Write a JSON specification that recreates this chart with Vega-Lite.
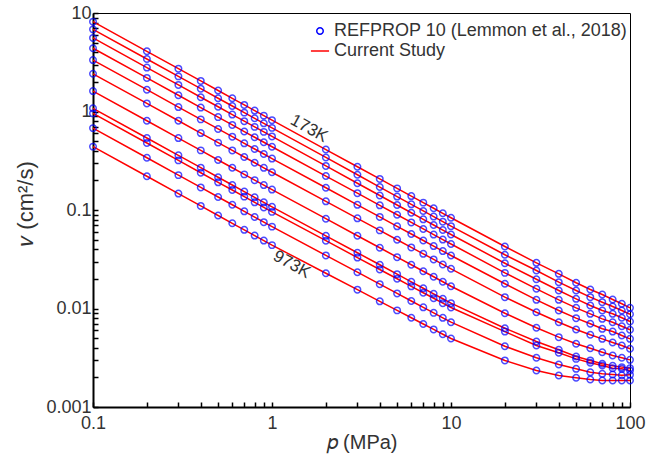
{
"$schema": "https://vega.github.io/schema/vega-lite/v6.json",
"width": 537, "height": 394,
"autosize": {"type": "none"},
"padding": {"left": 93, "top": 13, "right": 27, "bottom": 53},
"background": "white",
"config": {"view": {"stroke": "black", "strokeWidth": 1}, "font": "Liberation Sans"},
"datasets": {
"nu": [
{"T":173,"p":0.1,"v":8.17},{"T":173,"p":0.2,"v":4.085},{"T":173,"p":0.3,"v":2.723},{"T":173,"p":0.4,"v":2.043},{"T":173,"p":0.5,"v":1.634},{"T":173,"p":0.6,"v":1.362},{"T":173,"p":0.7,"v":1.167},{"T":173,"p":0.8,"v":1.021},{"T":173,"p":0.9,"v":0.908},{"T":173,"p":1,"v":0.817},{"T":173,"p":2,"v":0.411},{"T":173,"p":3,"v":0.275},{"T":173,"p":4,"v":0.2068},{"T":173,"p":5,"v":0.1658},{"T":173,"p":6,"v":0.1384},{"T":173,"p":7,"v":0.1188},{"T":173,"p":8,"v":0.1041},{"T":173,"p":9,"v":0.0926},{"T":173,"p":10,"v":0.0834},{"T":173,"p":20,"v":0.0426},{"T":173,"p":30,"v":0.0291},{"T":173,"p":40,"v":0.0225},{"T":173,"p":50,"v":0.01824},{"T":173,"p":60,"v":0.0156},{"T":173,"p":70,"v":0.01387},{"T":173,"p":80,"v":0.01233},{"T":173,"p":90,"v":0.01117},{"T":173,"p":100,"v":0.01016},
{"T":253,"p":0.1,"v":6.82},{"T":253,"p":0.2,"v":3.41},{"T":253,"p":0.3,"v":2.273},{"T":253,"p":0.4,"v":1.705},{"T":253,"p":0.5,"v":1.364},{"T":253,"p":0.6,"v":1.137},{"T":253,"p":0.7,"v":0.974},{"T":253,"p":0.8,"v":0.853},{"T":253,"p":0.9,"v":0.758},{"T":253,"p":1,"v":0.682},{"T":253,"p":2,"v":0.3415},{"T":253,"p":3,"v":0.2278},{"T":253,"p":4,"v":0.171},{"T":253,"p":5,"v":0.1368},{"T":253,"p":6,"v":0.1141},{"T":253,"p":7,"v":0.0978},{"T":253,"p":8,"v":0.0857},{"T":253,"p":9,"v":0.0761},{"T":253,"p":10,"v":0.0685},{"T":253,"p":20,"v":0.0351},{"T":253,"p":30,"v":0.0243},{"T":253,"p":40,"v":0.0185},{"T":253,"p":50,"v":0.01524},{"T":253,"p":60,"v":0.01303},{"T":253,"p":70,"v":0.01159},{"T":253,"p":80,"v":0.01047},{"T":253,"p":90,"v":0.00955},{"T":253,"p":100,"v":0.00875},
{"T":333,"p":0.1,"v":5.585},{"T":333,"p":0.2,"v":2.793},{"T":333,"p":0.3,"v":1.862},{"T":333,"p":0.4,"v":1.396},{"T":333,"p":0.5,"v":1.117},{"T":333,"p":0.6,"v":0.931},{"T":333,"p":0.7,"v":0.798},{"T":333,"p":0.8,"v":0.698},{"T":333,"p":0.9,"v":0.621},{"T":333,"p":1,"v":0.5585},{"T":333,"p":2,"v":0.2801},{"T":333,"p":3,"v":0.187},{"T":333,"p":4,"v":0.1404},{"T":333,"p":5,"v":0.1124},{"T":333,"p":6,"v":0.0938},{"T":333,"p":7,"v":0.0804},{"T":333,"p":8,"v":0.0704},{"T":333,"p":9,"v":0.0626},{"T":333,"p":10,"v":0.0564},{"T":333,"p":20,"v":0.0288},{"T":333,"p":30,"v":0.0198},{"T":333,"p":40,"v":0.01524},{"T":333,"p":50,"v":0.01253},{"T":333,"p":60,"v":0.01072},{"T":333,"p":70,"v":0.00955},{"T":333,"p":80,"v":0.00883},{"T":333,"p":90,"v":0.00805},{"T":333,"p":100,"v":0.00738},
{"T":413,"p":0.1,"v":4.385},{"T":413,"p":0.2,"v":2.193},{"T":413,"p":0.3,"v":1.462},{"T":413,"p":0.4,"v":1.096},{"T":413,"p":0.5,"v":0.877},{"T":413,"p":0.6,"v":0.731},{"T":413,"p":0.7,"v":0.626},{"T":413,"p":0.8,"v":0.548},{"T":413,"p":0.9,"v":0.487},{"T":413,"p":1,"v":0.4385},{"T":413,"p":2,"v":0.2212},{"T":413,"p":3,"v":0.1483},{"T":413,"p":4,"v":0.1116},{"T":413,"p":5,"v":0.0895},{"T":413,"p":6,"v":0.0748},{"T":413,"p":7,"v":0.0642},{"T":413,"p":8,"v":0.0563},{"T":413,"p":9,"v":0.0501},{"T":413,"p":10,"v":0.0452},{"T":413,"p":20,"v":0.023},{"T":413,"p":30,"v":0.01585},{"T":413,"p":40,"v":0.01225},{"T":413,"p":50,"v":0.01016},{"T":413,"p":60,"v":0.00883},{"T":413,"p":70,"v":0.00785},{"T":413,"p":80,"v":0.00726},{"T":413,"p":90,"v":0.00661},{"T":413,"p":100,"v":0.00608},
{"T":493,"p":0.1,"v":3.327},{"T":493,"p":0.2,"v":1.664},{"T":493,"p":0.3,"v":1.109},{"T":493,"p":0.4,"v":0.832},{"T":493,"p":0.5,"v":0.665},{"T":493,"p":0.6,"v":0.555},{"T":493,"p":0.7,"v":0.475},{"T":493,"p":0.8,"v":0.416},{"T":493,"p":0.9,"v":0.37},{"T":493,"p":1,"v":0.3327},{"T":493,"p":2,"v":0.1682},{"T":493,"p":3,"v":0.1129},{"T":493,"p":4,"v":0.0851},{"T":493,"p":5,"v":0.0683},{"T":493,"p":6,"v":0.0571},{"T":493,"p":7,"v":0.049},{"T":493,"p":8,"v":0.043},{"T":493,"p":9,"v":0.0383},{"T":493,"p":10,"v":0.0345},{"T":493,"p":20,"v":0.01782},{"T":493,"p":30,"v":0.01225},{"T":493,"p":40,"v":0.00955},{"T":493,"p":50,"v":0.00798},{"T":493,"p":60,"v":0.007},{"T":493,"p":70,"v":0.00622},{"T":493,"p":80,"v":0.00583},{"T":493,"p":90,"v":0.00532},{"T":493,"p":100,"v":0.00492},
{"T":573,"p":0.1,"v":2.415},{"T":573,"p":0.2,"v":1.208},{"T":573,"p":0.3,"v":0.805},{"T":573,"p":0.4,"v":0.604},{"T":573,"p":0.5,"v":0.483},{"T":573,"p":0.6,"v":0.4025},{"T":573,"p":0.7,"v":0.345},{"T":573,"p":0.8,"v":0.302},{"T":573,"p":0.9,"v":0.268},{"T":573,"p":1,"v":0.2415},{"T":573,"p":2,"v":0.1224},{"T":573,"p":3,"v":0.0823},{"T":573,"p":4,"v":0.0621},{"T":573,"p":5,"v":0.0499},{"T":573,"p":6,"v":0.0417},{"T":573,"p":7,"v":0.0359},{"T":573,"p":8,"v":0.0315},{"T":573,"p":9,"v":0.028},{"T":573,"p":10,"v":0.0253},{"T":573,"p":20,"v":0.01303},{"T":573,"p":30,"v":0.00916},{"T":573,"p":40,"v":0.00726},{"T":573,"p":50,"v":0.00612},{"T":573,"p":60,"v":0.00541},{"T":573,"p":70,"v":0.00492},{"T":573,"p":80,"v":0.00452},{"T":573,"p":90,"v":0.00421},{"T":573,"p":100,"v":0.0039},
{"T":653,"p":0.1,"v":1.611},{"T":653,"p":0.2,"v":0.806},{"T":653,"p":0.3,"v":0.537},{"T":653,"p":0.4,"v":0.403},{"T":653,"p":0.5,"v":0.322},{"T":653,"p":0.6,"v":0.2685},{"T":653,"p":0.7,"v":0.23},{"T":653,"p":0.8,"v":0.201},{"T":653,"p":0.9,"v":0.179},{"T":653,"p":1,"v":0.1611},{"T":653,"p":2,"v":0.0816},{"T":653,"p":3,"v":0.0548},{"T":653,"p":4,"v":0.0414},{"T":653,"p":5,"v":0.0332},{"T":653,"p":6,"v":0.0278},{"T":653,"p":7,"v":0.0239},{"T":653,"p":8,"v":0.021},{"T":653,"p":9,"v":0.0187},{"T":653,"p":10,"v":0.01683},{"T":653,"p":20,"v":0.00895},{"T":653,"p":30,"v":0.00637},{"T":653,"p":40,"v":0.00512},{"T":653,"p":50,"v":0.00439},{"T":653,"p":60,"v":0.00395},{"T":653,"p":70,"v":0.0036},{"T":653,"p":80,"v":0.00333},{"T":653,"p":90,"v":0.00316},{"T":653,"p":100,"v":0.00301},
{"T":733,"p":0.1,"v":1.077},{"T":733,"p":0.2,"v":0.538},{"T":733,"p":0.3,"v":0.359},{"T":733,"p":0.4,"v":0.269},{"T":733,"p":0.5,"v":0.215},{"T":733,"p":0.6,"v":0.1795},{"T":733,"p":0.7,"v":0.1538},{"T":733,"p":0.8,"v":0.1346},{"T":733,"p":0.9,"v":0.1197},{"T":733,"p":1,"v":0.1077},{"T":733,"p":2,"v":0.0547},{"T":733,"p":3,"v":0.0368},{"T":733,"p":4,"v":0.0278},{"T":733,"p":5,"v":0.0223},{"T":733,"p":6,"v":0.01867},{"T":733,"p":7,"v":0.01606},{"T":733,"p":8,"v":0.01409},{"T":733,"p":9,"v":0.01256},{"T":733,"p":10,"v":0.01133},{"T":733,"p":20,"v":0.00631},{"T":733,"p":30,"v":0.00462},{"T":733,"p":40,"v":0.00381},{"T":733,"p":50,"v":0.00326},{"T":733,"p":60,"v":0.00297},{"T":733,"p":70,"v":0.00275},{"T":733,"p":80,"v":0.00262},{"T":733,"p":90,"v":0.00254},{"T":733,"p":100,"v":0.00248},
{"T":813,"p":0.1,"v":0.957},{"T":813,"p":0.2,"v":0.479},{"T":813,"p":0.3,"v":0.319},{"T":813,"p":0.4,"v":0.239},{"T":813,"p":0.5,"v":0.191},{"T":813,"p":0.6,"v":0.1595},{"T":813,"p":0.7,"v":0.1367},{"T":813,"p":0.8,"v":0.1196},{"T":813,"p":0.9,"v":0.1063},{"T":813,"p":1,"v":0.0957},{"T":813,"p":2,"v":0.0488},{"T":813,"p":3,"v":0.0329},{"T":813,"p":4,"v":0.0249},{"T":813,"p":5,"v":0.02006},{"T":813,"p":6,"v":0.0168},{"T":813,"p":7,"v":0.01446},{"T":813,"p":8,"v":0.0127},{"T":813,"p":9,"v":0.01133},{"T":813,"p":10,"v":0.01023},{"T":813,"p":20,"v":0.00583},{"T":813,"p":30,"v":0.00421},{"T":813,"p":40,"v":0.00355},{"T":813,"p":50,"v":0.00308},{"T":813,"p":60,"v":0.00281},{"T":813,"p":70,"v":0.00264},{"T":813,"p":80,"v":0.00248},{"T":813,"p":90,"v":0.00244},{"T":813,"p":100,"v":0.00235},
{"T":893,"p":0.1,"v":0.678},{"T":893,"p":0.2,"v":0.339},{"T":893,"p":0.3,"v":0.226},{"T":893,"p":0.4,"v":0.1695},{"T":893,"p":0.5,"v":0.1356},{"T":893,"p":0.6,"v":0.113},{"T":893,"p":0.7,"v":0.0969},{"T":893,"p":0.8,"v":0.0848},{"T":893,"p":0.9,"v":0.0753},{"T":893,"p":1,"v":0.0678},{"T":893,"p":2,"v":0.0346},{"T":893,"p":3,"v":0.02336},{"T":893,"p":4,"v":0.01767},{"T":893,"p":5,"v":0.01423},{"T":893,"p":6,"v":0.01192},{"T":893,"p":7,"v":0.01027},{"T":893,"p":8,"v":0.00903},{"T":893,"p":9,"v":0.00804},{"T":893,"p":10,"v":0.00726},{"T":893,"p":20,"v":0.00414},{"T":893,"p":30,"v":0.00316},{"T":893,"p":40,"v":0.0027},{"T":893,"p":50,"v":0.00244},{"T":893,"p":60,"v":0.00225},{"T":893,"p":70,"v":0.00217},{"T":893,"p":80,"v":0.00214},{"T":893,"p":90,"v":0.0021},{"T":893,"p":100,"v":0.00212},
{"T":973,"p":0.1,"v":0.44},{"T":973,"p":0.2,"v":0.22},{"T":973,"p":0.3,"v":0.1467},{"T":973,"p":0.4,"v":0.11},{"T":973,"p":0.5,"v":0.088},{"T":973,"p":0.6,"v":0.0733},{"T":973,"p":0.7,"v":0.0629},{"T":973,"p":0.8,"v":0.055},{"T":973,"p":0.9,"v":0.0489},{"T":973,"p":1,"v":0.044},{"T":973,"p":2,"v":0.0228},{"T":973,"p":3,"v":0.01553},{"T":973,"p":4,"v":0.01182},{"T":973,"p":5,"v":0.00957},{"T":973,"p":6,"v":0.00805},{"T":973,"p":7,"v":0.00696},{"T":973,"p":8,"v":0.00613},{"T":973,"p":9,"v":0.00548},{"T":973,"p":10,"v":0.00496},{"T":973,"p":20,"v":0.00297},{"T":973,"p":30,"v":0.00235},{"T":973,"p":40,"v":0.00209},{"T":973,"p":50,"v":0.00198},{"T":973,"p":60,"v":0.0019},{"T":973,"p":70,"v":0.00186},{"T":973,"p":80,"v":0.00186},{"T":973,"p":90,"v":0.00186},{"T":973,"p":100,"v":0.00186}
],
"lab": [{"t":"173K","p":1.61,"v":0.671},{"t":"973K","p":1.29,"v":0.028}]
},
"encoding": {
"x": {"field": "p", "type": "quantitative",
 "scale": {"type": "log", "domain": [0.1, 100], "nice": false},
 "axis": {"title": "𝑝 (MPa)", "values": [0.1,0.2,0.3,0.4,0.5,0.6,0.7,0.8,0.9,1,2,3,4,5,6,7,8,9,10,20,30,40,50,60,70,80,90,100],
  "format": "~g", "labelExpr": "indexof([0.1,1,10,100], datum.value) >= 0 ? datum.label : ''",
  "tickSize": -5,
  "encode": {"ticks": {"update": {"y2": [{"test": "indexof([0.1,1,10,100], datum.value) >= 0", "value": -8}, {"value": -5}]}}},
  "grid": false, "labelFlush": false, "labelOverlap": false,
  "domainColor": "black", "domainWidth": 2, "tickColor": "black", "tickWidth": 1.5,
  "labelFontSize": 18, "labelColor": "#333", "labelPadding": 12,
  "titleFontSize": 20, "titleFontWeight": "normal", "titleColor": "#333", "titlePadding": 0}},
"y": {"field": "v", "type": "quantitative",
 "scale": {"type": "log", "domain": [0.001, 10], "nice": false},
 "axis": {"title": "𝑣 (cm²/s)", "values": [0.001,0.002,0.003,0.004,0.005,0.006,0.007,0.008,0.009,0.01,0.02,0.03,0.04,0.05,0.06,0.07,0.08,0.09,0.1,0.2,0.3,0.4,0.5,0.6,0.7,0.8,0.9,1,2,3,4,5,6,7,8,9,10],
  "format": "~g", "labelExpr": "indexof([0.001,0.01,0.1,1,10], datum.value) >= 0 ? datum.label : ''",
  "tickSize": -5,
  "encode": {"ticks": {"update": {"x2": [{"test": "indexof([0.001,0.01,0.1,1,10], datum.value) >= 0", "value": 8}, {"value": 5}]}}},
  "grid": false, "labelFlush": false, "labelOverlap": false,
  "domainColor": "black", "domainWidth": 2, "tickColor": "black", "tickWidth": 1.5,
  "labelFontSize": 18, "labelColor": "#333", "labelPadding": 7,
  "titleFontSize": 22, "titleFontWeight": "normal", "titleColor": "#333", "titlePadding": 8, "titleY": 190}}
},
"layer": [
{"data": {"name": "nu"}, "mark": {"type": "line", "strokeWidth": 1.5},
 "encoding": {"detail": {"field": "T"},
  "color": {"datum": "Current Study", "type": "nominal",
   "scale": {"domain": ["REFPROP 10 (Lemmon et al., 2018)", "Current Study"], "range": ["#0000ff", "#ff0000"]},
   "legend": {"orient": "none", "legendX": 218, "legendY": 9, "title": null, "labelFontSize": 18, "labelColor": "#333", "labelLimit": 600, "rowPadding": 2, "labelOffset": 5, "symbolStrokeWidth": 1.5, "symbolSize": 42,
     "encode": {"symbols": {"update": {"size": {"signal": "datum.value === 'Current Study' ? 330 : 42"}}}}}}}},
{"data": {"name": "nu"}, "mark": {"type": "point", "filled": false, "size": 42, "strokeWidth": 1.5},
 "encoding": {
  "color": {"datum": "REFPROP 10 (Lemmon et al., 2018)", "type": "nominal"},
  "shape": {"datum": "REFPROP 10 (Lemmon et al., 2018)", "type": "nominal",
   "scale": {"domain": ["REFPROP 10 (Lemmon et al., 2018)", "Current Study"], "range": ["circle", "stroke"]}}}},
{"data": {"name": "lab"}, "mark": {"type": "text", "fontSize": 17, "color": "#333", "angle": 29, "align": "center", "baseline": "middle"},
 "encoding": {"text": {"field": "t"}}}
]
}
